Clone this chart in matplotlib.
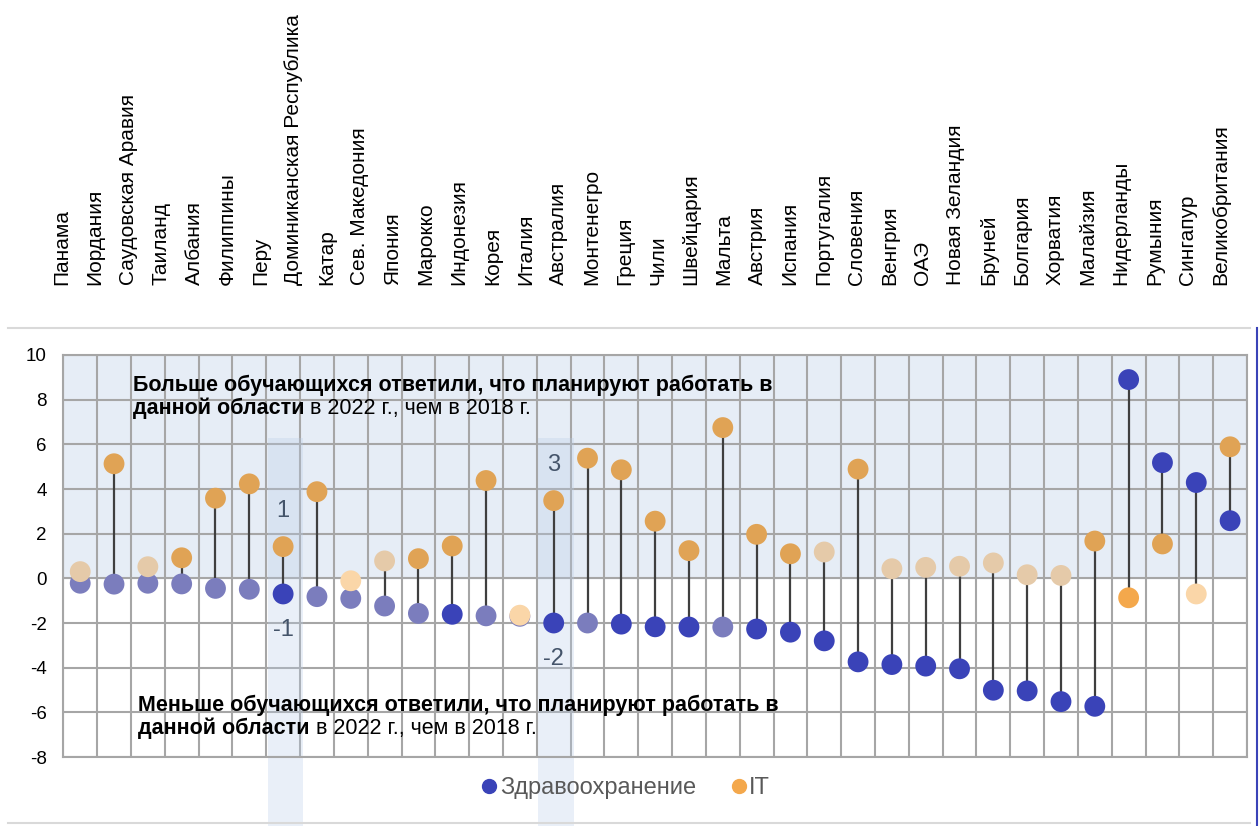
import numpy as np
import matplotlib
matplotlib.use("Agg")
import matplotlib.pyplot as plt
from matplotlib.lines import Line2D
from matplotlib.patches import Rectangle

plt.rcParams['font.family'] = ['Liberation Sans', 'DejaVu Sans']
plt.rcParams['axes.unicode_minus'] = False

# country names shown above the chart
countries = ["Панама", "Иордания", "Саудовская Аравия", "Таиланд", "Албания",
             "Филиппины", "Перу", "Доминиканская Республика", "Катар",
             "Сев. Македония", "Япония", "Марокко", "Индонезия", "Корея",
             "Италия", "Австралия", "Монтенегро", "Греция", "Чили", "Швейцария",
             "Мальта", "Австрия", "Испания", "Португалия", "Словения", "Венгрия",
             "ОАЭ", "Новая Зеландия", "Бруней", "Болгария", "Хорватия",
             "Малайзия", "Нидерланды", "Румыния", "Сингапур", "Великобритания"]

# change in share of students planning to work in the field, 2022 vs 2018 (p.p.)
health = [-0.22, -0.26, -0.22, -0.25, -0.45, -0.49, -0.70, -0.82, -0.90, -1.24,
          -1.57, -1.61, -1.68, -1.70, -2.00, -2.00, -2.05, -2.17, -2.18, -2.18,
          -2.27, -2.41, -2.80, -3.74, -3.86, -3.93, -4.05, -5.01, -5.04, -5.52,
          -5.73, 8.90, 5.18, 4.29, 2.58]
it = [0.30, 5.13, 0.52, 0.92, 3.59, 4.23, 1.42, 3.88, -0.11, 0.78,
      0.88, 1.45, 4.38, -1.65, 3.48, 5.38, 4.86, 2.56, 1.24, 6.75,
      1.97, 1.10, 1.18, 4.89, 0.43, 0.49, 0.54, 0.69, 0.16, 0.13,
      1.67, -0.87, 1.54, -0.70, 5.89]

# statistically significant change?
health_sig = [False, False, False, False, False, False, True, False, False, False,
              False, True, False, False, True, False, True, True, True, False,
              True, True, True, True, True, True, True, True, True, True,
              True, True, True, True, True]
it_sig = [False, True, False, True, True, True, True, True, False, False,
          True, True, True, False, True, True, True, True, True, True,
          True, True, False, True, False, False, False, False, False, False,
          True, True, True, False, True]

highlighted = [6, 14]

W, H = 1259, 826
fig = plt.figure(figsize=(W / 100, H / 100), dpi=100)


def fx(x):
    return x / W


def fy(y):
    return 1 - y / H


ax = fig.add_axes([fx(63.3), fy(757), fx(1247 - 63.3), (757 - 355) / H])
n = len(health)
x = np.arange(n)

ax.set_xlim(-0.5, n - 0.5)
ax.set_ylim(-8, 10)
ax.set_xticks(np.arange(-0.5, n, 1))
ax.set_xticklabels([])
ax.set_yticks(np.arange(-8, 11, 2))
ax.tick_params(length=0, labelsize=13.5, pad=12)
ax.grid(True, color='#A6A6A6', lw=1.5)
ax.set_axisbelow(True)
for s in ax.spines.values():
    s.set_color('#A6A6A6')
    s.set_linewidth(1.5)

# area above zero
ax.axhspan(0, 10, color='#E6EDF6', zorder=0.1)

# highlighted columns
for i in highlighted:
    ax.add_patch(Rectangle((i - 0.45, -11.2), 1.05, 6.3 + 11.2, facecolor='#B9CDE8',
                           alpha=0.3, lw=0, zorder=0.7, clip_on=False))

ax.vlines(x, health, it, color='#3F3F3F', lw=1.6, zorder=2)


def it_color(v, sig):
    if sig:
        return '#E0A355' if v > 0 else '#F4A84C'
    return '#E5CAA9' if v > 0 else '#FAD6A8'


h_colors = ['#3A43B8' if s else '#7B7DBD' for s in health_sig]
i_colors = [it_color(v, s) for v, s in zip(it, it_sig)]
ax.scatter(x, health, s=225, c=h_colors, lw=0, zorder=3)
ax.scatter(x, it, s=225, c=i_colors, lw=0, zorder=4)

for i in highlighted:
    ax.text(i, it[i] + 1.6, f"{round(it[i]):d}", ha='center', va='center',
            fontsize=17, color='#44546A', zorder=5)
    ax.text(i, health[i] - 1.6, f"{round(health[i]):d}", ha='center', va='center',
            fontsize=17, color='#44546A', zorder=5)

# explanatory notes
for (x0, y1, first) in [(133, 385, "Больше"), (138, 705, "Меньше")]:
    fig.text(fx(x0), fy(y1), first + " обучающихся ответили, что планируют работать в",
             fontsize=15.5, weight='bold', va='center', ha='left')
    t = fig.text(fx(x0), fy(y1 + 23), "данной области", fontsize=15.5,
                 weight='bold', va='center', ha='left')
    ax.annotate(" в 2022 г., чем в 2018 г.", xy=(1, 0), xycoords=t,
                va='bottom', ha='left', fontsize=15.5, annotation_clip=False)

# country labels row
lab = fig.add_axes([fx(45.5), fy(285), fx(1237 - 45.5), 0.01])
lab.set_xlim(-0.5, len(countries) - 0.5)
lab.set_ylim(0, 1)
lab.axis('off')
for i, name in enumerate(countries):
    lab.text(i, 0, name, rotation=90, ha='center', va='bottom', fontsize=15)

# legend
handles = [Line2D([], [], marker='o', ls='', color='#3A43B8', markersize=10),
           Line2D([], [], marker='o', ls='', color='#F4A84C', markersize=10)]
fig.legend(handles, ["Здравоохранение", "IT"], loc='center',
           bbox_to_anchor=(fx(625), fy(788)), ncol=2, frameon=False,
           fontsize=17, labelcolor='#595959', handletextpad=0.05,
           columnspacing=1.4, handlelength=0.8)

# frame lines
fig.add_artist(Line2D([fx(8), fx(1250)], [fy(328), fy(328)], color='#D9D9D9', lw=1.5))
fig.add_artist(Line2D([fx(8), fx(1250)], [fy(823), fy(823)], color='#D9D9D9', lw=1.5))
fig.add_artist(Line2D([fx(1257), fx(1257)], [fy(328), fy(826)], color='#3A43B8', lw=1.5))

fig.savefig("out.png", dpi=100)
